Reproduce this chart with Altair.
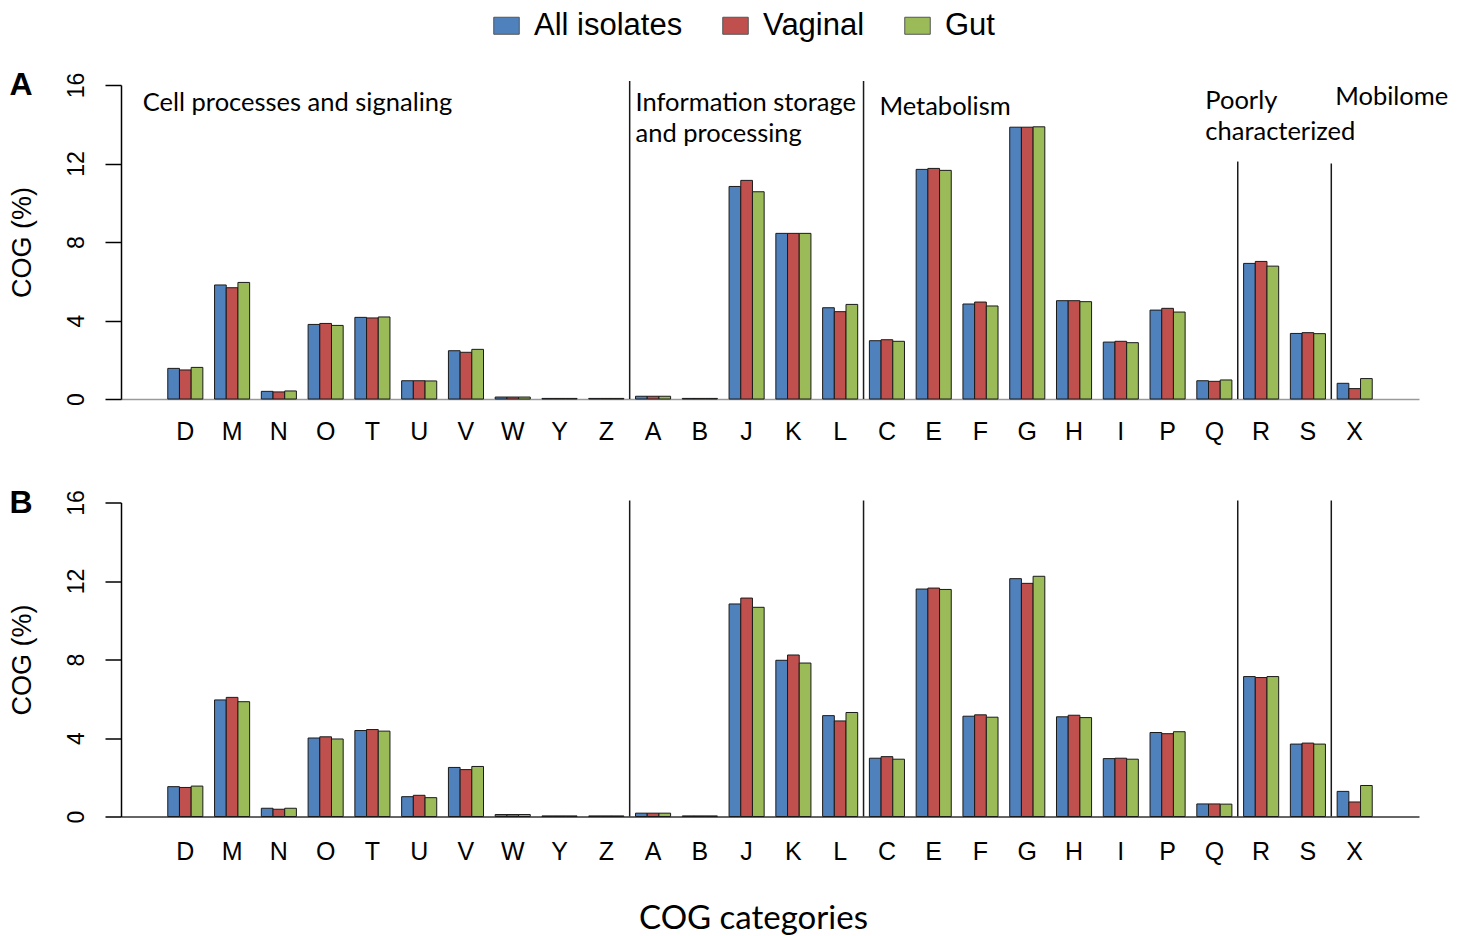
import altair as alt
import pandas as pd

categories = ["D", "M", "N", "O", "T", "U", "V", "W", "Y", "Z", "A", "B", "J", "K", "L",
              "C", "E", "F", "G", "H", "I", "P", "Q", "R", "S", "X"]
series = ["All isolates", "Vaginal", "Gut"]
colors = ["#4F81BD", "#C0504D", "#9BBB59"]

# Panel A values (%)
a_all = [1.56, 5.81, 0.39, 3.80, 4.16, 0.93, 2.46, 0.10, 0.03, 0.03, 0.14, 0.03, 10.83, 8.44, 4.65,
         2.97, 11.70, 4.84, 13.85, 5.01, 2.90, 4.53, 0.93, 6.91, 3.34, 0.80]
a_vag = [1.48, 5.67, 0.36, 3.85, 4.13, 0.93, 2.38, 0.10, 0.03, 0.03, 0.14, 0.03, 11.14, 8.44, 4.45,
         3.02, 11.75, 4.94, 13.85, 5.01, 2.94, 4.62, 0.90, 7.01, 3.38, 0.53]
a_gut = [1.61, 5.94, 0.41, 3.75, 4.18, 0.92, 2.53, 0.10, 0.03, 0.03, 0.14, 0.03, 10.56, 8.44, 4.82,
         2.94, 11.65, 4.74, 13.87, 4.96, 2.87, 4.43, 0.97, 6.77, 3.33, 1.04]
# Panel B values (%)
b_all = [1.52, 5.94, 0.42, 4.00, 4.38, 1.01, 2.50, 0.10, 0.03, 0.03, 0.17, 0.03, 10.83, 7.96, 5.14,
         2.97, 11.59, 5.11, 12.12, 5.08, 2.95, 4.28, 0.64, 7.13, 3.69, 1.28]
b_vag = [1.48, 6.07, 0.37, 4.06, 4.43, 1.08, 2.39, 0.10, 0.03, 0.03, 0.17, 0.03, 11.13, 8.23, 4.87,
         3.05, 11.64, 5.18, 11.88, 5.16, 2.97, 4.22, 0.64, 7.08, 3.74, 0.74]
b_gut = [1.55, 5.85, 0.42, 3.95, 4.35, 0.96, 2.55, 0.10, 0.03, 0.03, 0.17, 0.03, 10.66, 7.82, 5.30,
         2.92, 11.57, 5.06, 12.24, 5.04, 2.92, 4.32, 0.63, 7.13, 3.69, 1.58]

# Group separators (category that starts the new group, top value of line)
sep_cats = ["A", "C", "R", "X"]
sep_top_a = [16.2, 16.2, 12.1, 12.0]
sep_top_b = [16.1, 16.1, 16.1, 16.1]

# Group annotations (panel A)
ann_text = ["Cell processes and signaling", "Information storage", "and processing",
            "Metabolism", "Poorly", "characterized", "Mobilome"]
ann_cat = ["D", "A", "A", "C", "Q", "Q", "X"]
ann_y = [15.1, 15.1, 13.5, 14.86, 15.2, 13.6, 15.4]
ann_dx = [-25, 0, 0, 10, 8.5, 8.5, -2]

W, H = 1298, 314
HELV = "Liberation Sans"
MYR = "Lato"


def make_df(v1, v2, v3):
    rows = []
    for s, vals in zip(series, [v1, v2, v3]):
        for c, v in zip(categories, vals):
            rows.append({"cat": c, "series": s, "value": v})
    return pd.DataFrame(rows)


def panel(df, seps, letter, show_legend, annotate, xtitle, domain_color, label_pad):
    xscale = alt.Scale(paddingInner=0.25, paddingOuter=1)
    legend = None
    if show_legend:
        legend = alt.Legend(
            title=None, orient="none", legendX=370, legendY=-75, direction="horizontal",
            symbolType="M-1.5,-1H1.5V1H-1.5Z", symbolSize=289, symbolStrokeColor="#555555",
            symbolStrokeWidth=1, symbolOpacity=1, labelFont=HELV, labelFontSize=31,
            labelColor="black", labelOffset=12, columnPadding=37, labelLimit=400,
        )
    xaxis = alt.Axis(
        title=xtitle if xtitle else None, labelAngle=0, labelFont=HELV, labelFontSize=25,
        labelColor="black", labelPadding=label_pad, ticks=False, domainColor=domain_color,
        domainWidth=1.5, grid=False, titleFont=MYR, titleFontSize=33,
        titleFontWeight="normal", titleColor="black", titlePadding=38, titleX=632,
    )
    yaxis = alt.Axis(
        values=[0, 4, 8, 12, 16], labelAngle=270, labelAlign="center", labelBaseline="bottom",
        labelFont=HELV, labelFontSize=23, labelColor="black", labelPadding=17, tickSize=16,
        tickColor="black", tickWidth=1.5, domainColor="black", domainWidth=1.5, grid=False,
        title="COG (%)", titleFont=HELV, titleFontSize=27, titleFontWeight="normal",
        titleColor="black", titlePadding=29,
    )
    bars = alt.Chart(df).mark_bar(stroke="#1a1a1a", strokeWidth=1, opacity=1).encode(
        x=alt.X("cat:N", sort=categories, scale=xscale, axis=xaxis),
        xOffset=alt.XOffset("series:N", sort=series,
                            scale=alt.Scale(paddingInner=0, paddingOuter=0)),
        y=alt.Y("value:Q", scale=alt.Scale(domain=[0, 16], nice=False, zero=True), axis=yaxis),
        color=alt.Color("series:N", sort=series, scale=alt.Scale(domain=series, range=colors),
                        legend=legend),
    )
    sep_df = pd.DataFrame({"cat": sep_cats, "top": seps, "base": [0] * len(sep_cats)})
    rules = alt.Chart(sep_df).mark_rule(color="#1a1a1a", strokeWidth=1.5, xOffset=-5.85).encode(
        x=alt.X("cat:N", sort=categories, bandPosition=0),
        y=alt.Y("top:Q"),
        y2="base:Q",
    )
    letter_df = pd.DataFrame({"label": [letter]})
    letter_mark = alt.Chart(letter_df).mark_text(
        font=HELV, fontSize=32, fontWeight="bold", align="center", baseline="middle",
        color="black",
    ).encode(x=alt.value(-100), y=alt.value(0), text="label:N")
    layers = [bars, rules, letter_mark]
    if annotate:
        for t, c, yv, dx in zip(ann_text, ann_cat, ann_y, ann_dx):
            adf = pd.DataFrame({"text": [t], "cat": [c], "y": [yv]})
            layers.append(
                alt.Chart(adf).mark_text(font=MYR, fontSize=25.5, align="left", dx=dx,
                                         baseline="middle", color="black").encode(
                    x=alt.X("cat:N", sort=categories, bandPosition=0),
                    y=alt.Y("y:Q"),
                    text="text:N",
                )
            )
    return alt.layer(*layers).properties(width=W, height=H)


pa = panel(make_df(a_all, a_vag, a_gut), sep_top_a, "A", True, True, None, "#9a9a9a", 20)
pb = panel(make_df(b_all, b_vag, b_gut), sep_top_b, "B", False, False, "COG categories",
           "#333333", 23)

chart = alt.vconcat(pa, pb, spacing=42.5).resolve_scale(color="independent").resolve_legend(
    color="independent"
).properties(
    padding={"left": 8, "top": 10, "right": 0, "bottom": 0},
    background="white",
).configure_view(stroke=None)

chart.save("out.html", embed_options={"renderer": "svg", "actions": False})
